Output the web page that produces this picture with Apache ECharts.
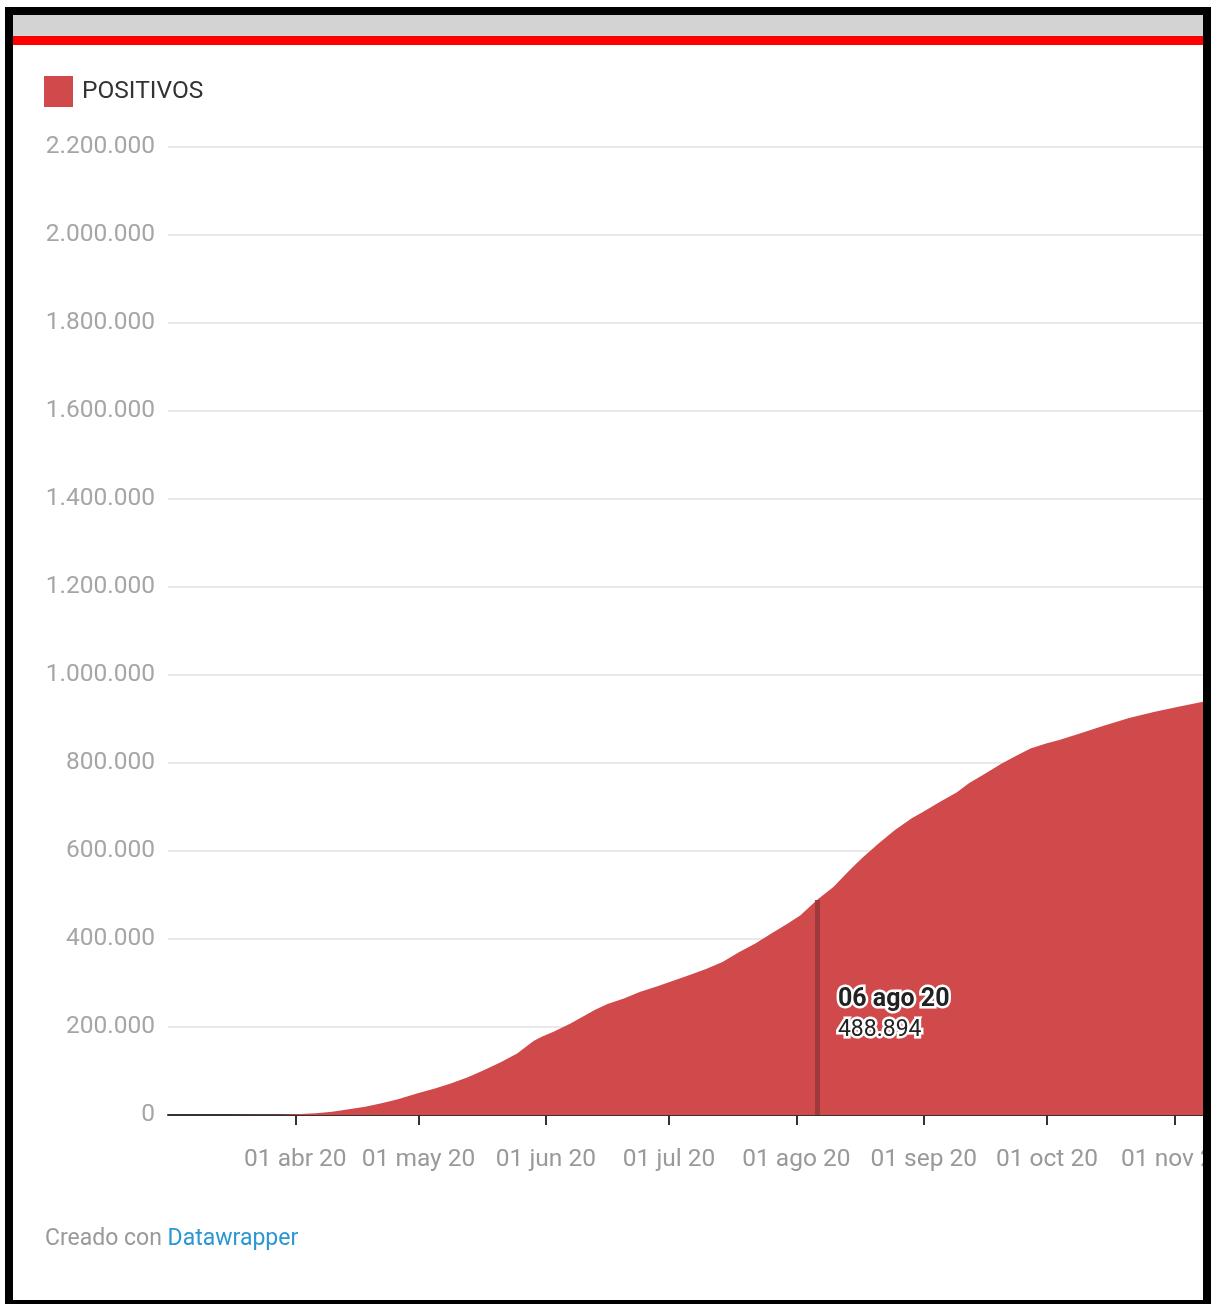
<!DOCTYPE html>
<html>
<head>
<meta charset="utf-8">
<script src="https://cdn.jsdelivr.net/npm/echarts@6/dist/echarts.min.js"></script>
<style>
html,body{margin:0;padding:0;background:#fff;width:1211px;height:1304px;overflow:hidden}
#frame{position:absolute;left:5px;top:7px;width:1206px;height:1297px;background:#000}
#inner{position:absolute;left:13px;top:15px;width:1190px;height:1285px;background:#fff;overflow:hidden}
#greybar{position:absolute;left:0;top:0;width:100%;height:21px;background:#d3d3d3}
#redbar{position:absolute;left:0;top:21px;width:100%;height:9px;background:#ff0000}
#chart{position:absolute;left:0;top:30px;width:1400px;height:1255px}
</style>
</head>
<body>
<div id="frame"></div>
<div id="inner">
  <div id="greybar"></div>
  <div id="redbar"></div>
  <div id="chart"></div>
</div>
<script>
// ---- data ----
const seriesName = 'POSITIVOS';
const dates = [
  '2020-03-06','2020-03-15','2020-03-22','2020-03-27','2020-04-01','2020-04-06','2020-04-10','2020-04-14',
  '2020-04-18','2020-04-22','2020-04-26','2020-05-01','2020-05-05','2020-05-09','2020-05-13','2020-05-17',
  '2020-05-21','2020-05-25','2020-05-29','2020-05-31','2020-06-03','2020-06-07','2020-06-13','2020-06-16',
  '2020-06-20','2020-06-24','2020-06-28','2020-07-02','2020-07-06','2020-07-10','2020-07-14','2020-07-18',
  '2020-07-22','2020-07-26','2020-07-30','2020-08-02','2020-08-06','2020-08-10','2020-08-14','2020-08-17',
  '2020-08-21','2020-08-25','2020-08-29','2020-09-01','2020-09-05','2020-09-09','2020-09-12','2020-09-16',
  '2020-09-20','2020-09-24','2020-09-27','2020-10-01','2020-10-04','2020-10-09','2020-10-15','2020-10-21',
  '2020-10-27','2020-11-02','2020-11-08'
];
const values = [
  1, 70, 360, 700, 1500, 4000, 7500, 13000,
  19000, 26500, 36000, 50000, 60000, 72000, 86000, 102000,
  120000, 140000, 168000, 178000, 190000, 208000, 239000, 252000,
  265000, 280000, 292000, 305000, 318000, 332000, 348000, 370000,
  390000, 413000, 436000, 454000, 488894, 518000, 557000, 584000,
  617000, 648000, 674000, 690000, 712000, 733000, 754000, 776000,
  799000, 819000, 833000, 845000, 852000, 867000, 885000, 902000,
  916000, 928000, 939000
];
const tickDates = ['2020-04-01','2020-05-01','2020-06-01','2020-07-01','2020-08-01','2020-09-01','2020-10-01','2020-11-01'];
const tickLabels = ['01 abr 20','01 may 20','01 jun 20','01 jul 20','01 ago 20','01 sep 20','01 oct 20','01 nov 20'];
const xStart = '2020-03-01';
const xEnd = '2020-11-08';
const yMin = 0, yMax = 2200000, yStep = 200000;
const annotDate = '2020-08-06';
const annotDateLabel = '06 ago 20';
const annotValue = 488894;
const footerPlain = 'Creado con ';
const footerLink = 'Datawrapper';

// ---- helpers ----
function ts(s){ const p = s.split('-'); return Date.UTC(+p[0], +p[1]-1, +p[2]); }
function fmt(v){ return String(v).replace(/\B(?=(\d{3})+(?!\d))/g, '.'); }

const seriesData = dates.map((d,i)=>[ts(d), values[i]]);
const tickTs = tickDates.map(ts);
const labelMap = {};
tickTs.forEach((t,i)=>{ labelMap[t] = tickLabels[i]; });
const tA = ts(annotDate);

const FONT = 'Roboto';
const RED = '#d04a4c';

const chart = echarts.init(document.getElementById('chart'), null, {renderer:'canvas'});
chart.setOption({
  animation: false,
  backgroundColor: 'transparent',
  textStyle: {fontFamily: FONT},
  title: {
    left: 32, top: 1183, padding: 0,
    text: '{a|' + footerPlain + '}{b|' + footerLink + '}',
    textStyle: {
      fontWeight: 'normal',
      rich: {
        a: {color: '#999999', fontSize: 23, fontFamily: FONT, fontWeight: 'normal'},
        b: {color: '#2a96d4', fontSize: 23, fontFamily: FONT, fontWeight: 'normal'}
      }
    }
  },
  legend: {
    left: 31, top: 31, padding: 0,
    itemWidth: 29, itemHeight: 31, icon: 'rect',
    data: [seriesName],
    textStyle: {fontSize: 24.5, color: '#333333', fontFamily: FONT, padding: [3,0,0,4]}
  },
  grid: {left: 155, right: 210, top: 102, bottom: 185, containLabel: false},
  xAxis: {
    type: 'value',
    min: ts(xStart), max: ts(xEnd),
    axisLine: {show: true, lineStyle: {color: '#333333', width: 2}},
    axisTick: {show: true, customValues: tickTs, length: 10, lineStyle: {color: '#333333', width: 2}},
    axisLabel: {
      show: true, customValues: tickTs, margin: 32,
      color: '#999999', fontSize: 24.5, fontFamily: FONT,
      formatter: function(v){ return labelMap[v] || ''; }
    },
    splitLine: {show: false}
  },
  yAxis: {
    type: 'value', min: yMin, max: yMax, interval: yStep,
    axisLine: {show: false}, axisTick: {show: false},
    axisLabel: {color: '#a6a6a6', fontSize: 24.5, fontFamily: FONT, margin: 13, formatter: fmt, padding: [3,0,0,0]},
    splitLine: {show: true, lineStyle: {color: '#e9e9e9', width: 2}}
  },
  series: [{
    name: seriesName,
    type: 'line',
    data: seriesData,
    showSymbol: false,
    silent: true,
    lineStyle: {width: 0, color: RED},
    itemStyle: {color: RED},
    areaStyle: {color: RED, opacity: 1},
    markLine: {
      silent: true,
      symbol: ['none','none'],
      label: {show: false},
      lineStyle: {color: '#9e3a3b', width: 5, type: 'solid'},
      data: [[{coord: [tA, 0]}, {coord: [tA, annotValue]}]]
    },
    markPoint: {
      silent: true,
      symbol: 'circle', symbolSize: 1,
      itemStyle: {color: 'rgba(0,0,0,0)'},
      data: [{coord: [tA, annotValue]}],
      label: {
        show: true, position: 'inside', align: 'left', verticalAlign: 'top',
        offset: [21, 84],
        formatter: '{a|' + annotDateLabel + '}\n{b|' + fmt(annotValue) + '}',
        rich: {
          a: {fontSize: 25, fontWeight: 'bold', color: '#222222', fontFamily: FONT, lineHeight: 31, textBorderColor: '#ffffff', textBorderWidth: 5},
          b: {fontSize: 23, color: '#222222', fontFamily: FONT, lineHeight: 31, textBorderColor: '#ffffff', textBorderWidth: 5}
        }
      }
    }
  }]
});
</script>
</body>
</html>
